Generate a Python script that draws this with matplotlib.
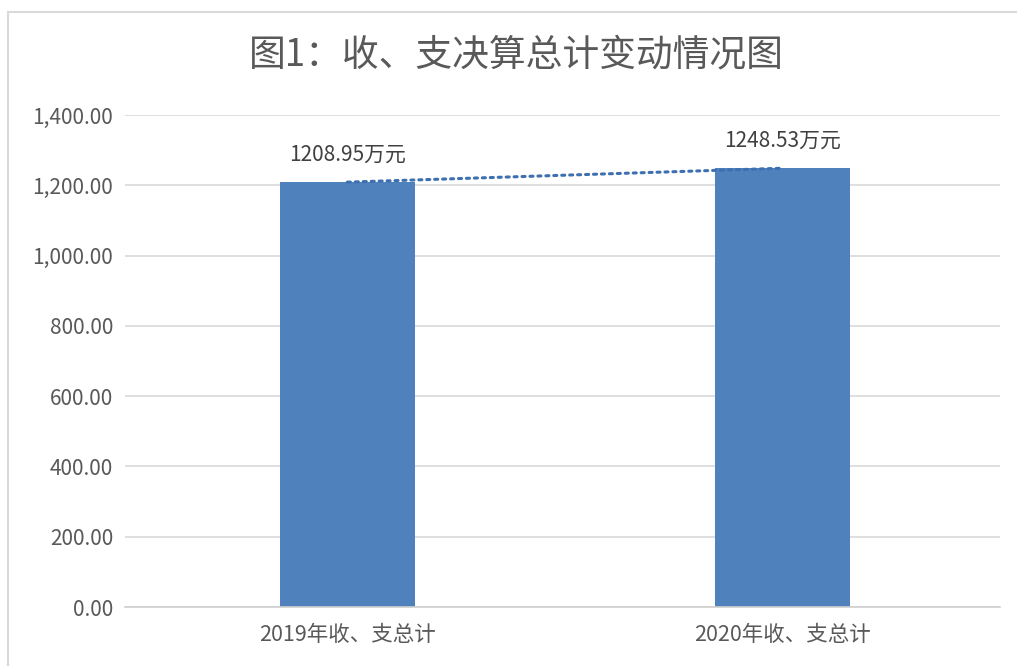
import matplotlib.pyplot as plt
from matplotlib.patches import Rectangle
from matplotlib.ticker import FuncFormatter

plt.rcParams['font.family'] = ['Noto Sans CJK SC', 'DejaVu Sans']

categorias = ['2019年收、支总计', '2020年收、支总计']
valores = [1208.95, 1248.53]
etiquetas = ['1208.95万元', '1248.53万元']
titulo = '图1：收、支决算总计变动情况图'

gris = '#595959'
azul = '#4F81BD'

fig = plt.figure(figsize=(10.17, 6.66), dpi=100)

# marco del grafico
fig.patches.append(Rectangle((8 / 1017, -0.05), 1.2, 0.05 + 1 - 12 / 666,
                             transform=fig.transFigure, fill=False,
                             edgecolor='#D9D9D9', linewidth=1.5))

ax = fig.add_axes([125 / 1017, 59 / 666, 875 / 1017, 492 / 666])

x = range(len(categorias))
ax.bar(x, valores, width=0.31, color=azul, zorder=2)
ax.plot(x, valores, linestyle=(0, (1, 1.6)), linewidth=2.2, color='#3E6FB0',
        dash_capstyle='round', zorder=3)

for i, v in enumerate(valores):
    ax.annotate(etiquetas[i], (i, v), xytext=(0, 20), textcoords='offset points',
                ha='center', va='center', fontsize=15, color='#404040')

ax.set_xlim(-0.511, 1.5)
ax.set_ylim(0, 1400)
ax.set_yticks(range(0, 1401, 200))
ax.yaxis.set_major_formatter(FuncFormatter(lambda v, p: f'{v:,.2f}'))
ax.set_xticks(list(x))
ax.set_xticklabels(categorias)

ax.grid(axis='y', color='#D9D9D9', linewidth=1.2, zorder=0)
ax.set_axisbelow(True)
for lado in ['top', 'right', 'left']:
    ax.spines[lado].set_visible(False)
ax.spines['bottom'].set_color('#D0D0D0')
ax.spines['bottom'].set_linewidth(1.2)
ax.tick_params(length=0, labelcolor=gris)
ax.tick_params(axis='y', pad=8.5, labelsize=15)
ax.tick_params(axis='x', pad=12, labelsize=15.5)

fig.text(0.508, 1 - 55 / 666, titulo, ha='center', va='center',
         fontsize=26.5, color=gris)

fig.savefig('out.png', dpi=100)
